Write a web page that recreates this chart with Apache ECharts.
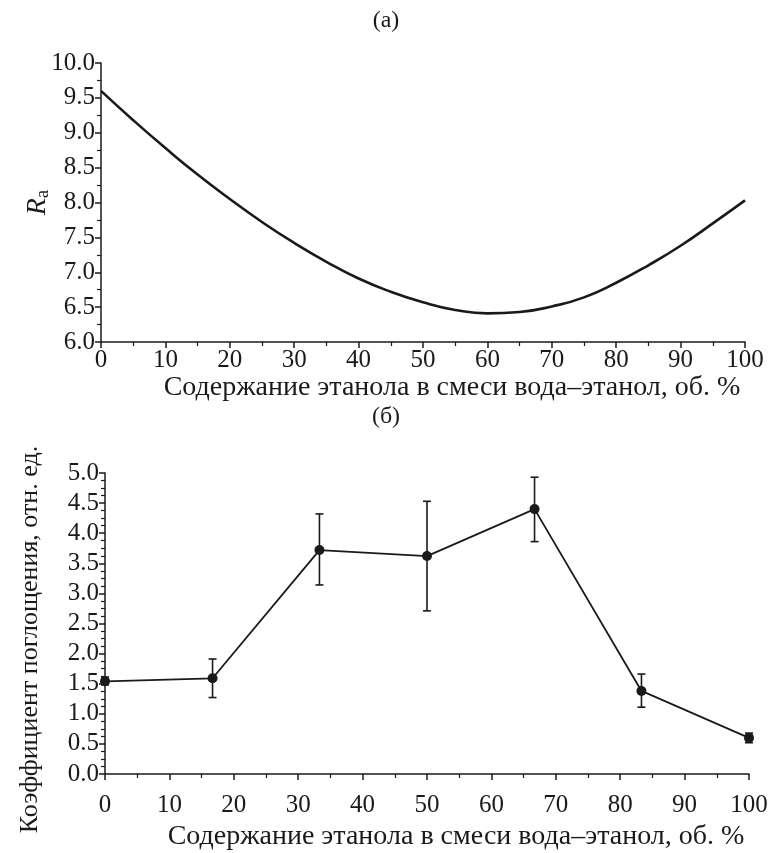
<!DOCTYPE html>
<html>
<head>
<meta charset="utf-8">
<script src="https://cdn.jsdelivr.net/npm/echarts@6/dist/echarts.min.js"></script>
<style>
  html, body { margin: 0; padding: 0; background: #fff; }
  #chart { width: 772px; height: 853px; }
</style>
</head>
<body>
<div id="chart"></div>
<script>
// Panel (а): Ra versus ethanol content
const raX = [0, 5, 10, 15, 20, 25, 30, 35, 40, 45, 50, 55, 60, 65, 70, 75, 80, 85, 90, 95, 100];
const raY = [9.60, 9.18, 8.78, 8.40, 8.05, 7.72, 7.42, 7.15, 6.91, 6.72, 6.57, 6.46, 6.41, 6.43, 6.51, 6.64, 6.85, 7.10, 7.38, 7.70, 8.03];

// Panel (б): absorption coefficient with error bars
const absX = [0, 16.7, 33.3, 50, 66.7, 83.3, 100];
const absY = [1.54, 1.59, 3.72, 3.62, 4.40, 1.38, 0.60];
const absLow = [1.48, 1.27, 3.14, 2.71, 3.86, 1.11, 0.52];
const absHigh = [1.61, 1.91, 4.32, 4.53, 4.93, 1.66, 0.68];

const xTicks = ['0', '10', '20', '30', '40', '50', '60', '70', '80', '90', '100'];
const xTitle = 'Содержание этанола в смеси вода–этанол, об. %';

const serif = 'Liberation Serif';
const ink = '#1a1a1a';

function xAxisCfg(gridIndex, labelMargin, nameGap) {
  return {
    type: 'value', gridIndex, min: 0, max: 100, interval: 10,
    name: xTitle, nameLocation: 'middle', nameGap,
    nameTextStyle: { fontFamily: serif, fontSize: 28, color: ink, padding: [0, 0, 0, 58] },
    axisLine: { lineStyle: { color: ink, width: 1.5 } },
    axisTick: { length: 6, lineStyle: { color: ink, width: 1.5 } },
    minorTick: { show: true, splitNumber: 2, length: 4, lineStyle: { color: ink, width: 1.2 } },
    axisLabel: { fontFamily: serif, fontSize: 25, color: ink, margin: labelMargin,
      formatter: v => xTicks[Math.round(v / 10)] },
    splitLine: { show: false }
  };
}

function yAxisCfg(gridIndex, min, max, minorSplit, name, nameGap, nameStyle) {
  return {
    type: 'value', gridIndex, min, max, interval: 0.5,
    name, nameLocation: 'middle', nameGap, nameRotate: 90,
    nameMoveOverlap: false,
    nameTextStyle: nameStyle,
    axisLine: { show: true, lineStyle: { color: ink, width: 1.5 } },
    axisTick: { length: 6, lineStyle: { color: ink, width: 1.5 } },
    minorTick: { show: true, splitNumber: minorSplit, length: 4, lineStyle: { color: ink, width: 1.2 } },
    axisLabel: { fontFamily: serif, fontSize: 25, color: ink, margin: 6,
      formatter: v => v.toFixed(1) },
    splitLine: { show: false }
  };
}

const chart = echarts.init(document.getElementById('chart'), null, { renderer: 'canvas' });

chart.setOption({
  backgroundColor: '#fff',
  animation: false,
  title: [
    { text: '(а)', left: 'center', top: 4,
      textStyle: { fontFamily: serif, fontSize: 24, fontWeight: 'normal', color: ink } },
    { text: '(б)', left: 'center', top: 400,
      textStyle: { fontFamily: serif, fontSize: 24, fontWeight: 'normal', color: ink } }
  ],
  grid: [
    { left: 101, top: 63, width: 644, height: 279 },
    { left: 105, top: 473, width: 644, height: 301 }
  ],
  xAxis: [xAxisCfg(0, 6, 30), xAxisCfg(1, 19, 49)],
  yAxis: [
    yAxisCfg(0, 6, 10, 2, '{i|R}{s|a}', 48, {
      color: ink,
      rich: {
        i: { fontFamily: serif, fontStyle: 'italic', fontSize: 28, color: ink },
        s: { fontFamily: serif, fontSize: 19, color: ink, padding: [12, 0, 0, 0] }
      }
    }),
    yAxisCfg(1, 0, 5, 4, 'Коэффициент поглощения, отн. ед.', 62,
      { fontFamily: serif, fontSize: 26, color: ink, padding: [0, 32, 0, 0] })
  ],
  series: [
    {
      type: 'line', xAxisIndex: 0, yAxisIndex: 0,
      data: raX.map((x, i) => [x, raY[i]]),
      smooth: true, showSymbol: false,
      lineStyle: { color: ink, width: 2.6 }
    },
    {
      type: 'custom', xAxisIndex: 1, yAxisIndex: 1,
      data: absX.map((x, i) => [x, absLow[i], absHigh[i]]),
      renderItem: (params, api) => {
        const lo = api.coord([api.value(0), api.value(1)]);
        const hi = api.coord([api.value(0), api.value(2)]);
        const cap = 4;
        const style = { stroke: ink, lineWidth: 1.6 };
        return {
          type: 'group',
          children: [
            { type: 'line', shape: { x1: lo[0], y1: lo[1], x2: hi[0], y2: hi[1] }, style },
            { type: 'line', shape: { x1: lo[0] - cap, y1: lo[1], x2: lo[0] + cap, y2: lo[1] }, style },
            { type: 'line', shape: { x1: hi[0] - cap, y1: hi[1], x2: hi[0] + cap, y2: hi[1] }, style }
          ]
        };
      },
      z: 3
    },
    {
      type: 'line', xAxisIndex: 1, yAxisIndex: 1,
      data: absX.map((x, i) => [x, absY[i]]),
      symbol: 'circle', symbolSize: 10, showSymbol: true,
      itemStyle: { color: ink },
      lineStyle: { color: ink, width: 1.8 },
      z: 4
    }
  ]
});
</script>
</body>
</html>
